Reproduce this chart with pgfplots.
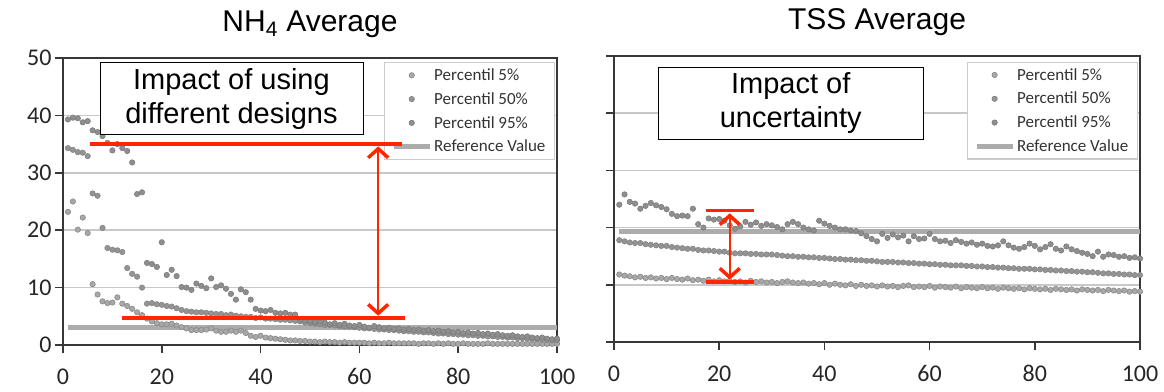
\documentclass[border=0pt]{standalone}
\usepackage{fontspec}
\setmainfont{Liberation Sans}
\newfontfamily\carlito{Carlito}
\usepackage{pgfplots}
\usepackage{pgfplotstable}
\pgfplotsset{compat=1.18}
\usetikzlibrary{arrows.meta}
\definecolor{annred}{RGB}{255,38,0}
\definecolor{gridc}{RGB}{200,200,200}
\definecolor{framec}{RGB}{55,55,55}
\definecolor{refc}{RGB}{172,172,172}
\definecolor{mA}{RGB}{168,168,168}
\definecolor{mAd}{RGB}{138,138,138}
\definecolor{mB}{RGB}{148,148,148}
\definecolor{mBd}{RGB}{132,132,132}
\definecolor{mC}{RGB}{142,142,142}
\definecolor{mCd}{RGB}{125,125,125}
\tikzset{
  redline/.style={annred, line width=3.5pt},
  redarrow/.style={annred, line width=2pt, {Straight Barb[length=9pt,width=20pt,line width=3.5pt]}-{Straight Barb[length=9pt,width=20pt,line width=3.5pt]}},
  annbox/.style={draw=black, line width=0.8pt, fill=white, minimum height=72pt, align=center, font=\fontsize{29}{34}\selectfont},
}

\pgfplotstableread{
x p5 p50 p95
1 23.2 34.3 39.3
2 25.0 34.0 39.6
3 20.1 33.6 39.5
4 22.2 33.5 38.8
5 19.5 32.9 39.0
6 10.6 26.4 37.4
7 8.8 26.0 37.1
8 7.6 20.4 36.4
9 7.3 16.9 35.2
10 7.4 16.6 33.9
11 8.3 16.5 35.0
12 7.2 16.2 34.3
13 6.8 13.4 33.8
14 6.3 12.4 31.8
15 5.7 11.9 26.3
16 5.2 10.0 26.6
17 4.6 7.2 14.3
18 4.1 7.3 14.1
19 3.8 7.1 13.6
20 3.6 7.0 17.9
21 3.6 6.8 12.2
22 3.7 6.7 13.1
23 3.4 6.4 12.0
24 3.1 6.1 10.1
25 2.9 5.9 10.0
26 2.6 5.8 9.6
27 2.6 5.7 10.7
28 2.6 5.7 10.3
29 2.7 5.6 9.9
30 2.9 5.5 11.6
31 2.5 5.4 10.1
32 2.3 5.4 10.4
33 2.3 5.2 9.8
34 2.5 5.3 8.9
35 2.3 5.1 7.9
36 2.5 5.0 9.7
37 2.1 4.9 9.2
38 1.6 4.9 7.9
39 1.4 4.7 6.3
40 1.6 4.8 6.0
41 1.3 4.6 5.9
42 1.2 4.6 6.1
43 1.1 4.5 5.6
44 1.0 4.4 5.5
45 0.9 4.4 5.6
46 0.8 4.3 5.3
47 0.8 4.2 5.3
48 0.7 4.1 4.4
49 0.7 3.9 4.3
50 0.6 3.8 4.1
51 0.6 3.7 4.0
52 0.5 3.6 4.1
53 0.6 3.5 3.9
54 0.5 3.5 3.6
55 0.5 3.4 3.8
56 0.4 3.3 3.5
57 0.5 3.2 3.7
58 0.4 3.2 3.4
59 0.4 3.1 3.3
60 0.4 3.0 3.5
61 0.4 2.9 3.2
62 0.3 2.9 3.0
63 0.4 2.8 3.3
64 0.3 2.7 3.1
65 0.3 2.7 2.9
66 0.4 2.6 3.0
67 0.3 2.6 2.8
68 0.3 2.5 2.9
69 0.3 2.4 2.7
70 0.3 2.4 2.8
71 0.3 2.3 2.6
72 0.2 2.3 2.7
73 0.3 2.2 2.5
74 0.3 2.2 2.6
75 0.2 2.1 2.4
76 0.3 2.0 2.5
77 0.2 2.0 2.3
78 0.3 1.9 2.4
79 0.2 1.9 2.2
80 0.2 1.8 2.3
81 0.3 1.8 2.1
82 0.2 1.7 2.2
83 0.2 1.7 2.0
84 0.2 1.6 2.1
85 0.2 1.6 1.9
86 0.3 1.5 2.0
87 0.2 1.5 1.8
88 0.2 1.4 1.9
89 0.2 1.4 1.7
90 0.2 1.3 1.6
91 0.2 1.3 1.7
92 0.2 1.2 1.5
93 0.2 1.2 1.4
94 0.2 1.1 1.5
95 0.2 1.0 1.3
96 0.2 1.0 1.2
97 0.2 0.9 1.3
98 0.2 0.9 1.1
99 0.2 0.8 1.0
100 0.2 0.8 1.1
}\nhfour

\pgfplotstableread{
x p5 p50 p95
1 11.8 17.8 24.0
2 11.6 17.6 25.8
3 11.5 17.4 24.5
4 11.3 17.3 24.2
5 11.4 17.3 23.3
6 11.2 17.1 23.8
7 11.3 17.0 24.3
8 11.1 16.9 23.9
9 11.2 16.8 23.6
10 11.0 16.8 23.2
11 11.2 16.6 22.4
12 11.0 16.5 22.0
13 10.9 16.4 22.1
14 11.1 16.3 22.0
15 10.8 16.3 23.3
16 10.9 16.1 20.6
17 10.7 16.0 20.0
18 10.9 16.0 21.6
19 10.6 15.9 21.4
20 10.8 15.8 21.5
21 10.6 15.8 21.2
22 10.7 15.6 20.4
23 10.5 15.5 19.8
24 10.6 15.5 20.2
25 10.4 15.5 21.0
26 10.7 15.4 20.5
27 10.5 15.4 20.9
28 10.6 15.3 20.3
29 10.4 15.3 20.6
30 10.5 15.3 20.4
31 10.3 15.2 20.1
32 10.5 15.1 19.7
33 10.6 15.0 20.6
34 10.4 15.0 21.0
35 10.3 14.9 20.6
36 10.4 14.9 20.0
37 10.2 14.8 19.7
38 10.3 14.8 19.5
39 10.1 14.7 21.2
40 10.3 14.7 20.7
41 10.0 14.6 20.3
42 10.2 14.5 20.0
43 10.0 14.5 19.7
44 9.9 14.4 19.7
45 10.1 14.4 19.5
46 9.8 14.3 19.4
47 10.0 14.3 19.0
48 9.8 14.2 18.5
49 9.9 14.2 18.0
50 9.7 14.1 17.6
51 9.9 14.0 18.9
52 9.7 14.0 18.2
53 9.8 14.0 18.8
54 9.6 13.9 18.3
55 9.8 13.9 18.6
56 9.9 13.8 17.6
57 9.6 13.8 18.5
58 9.7 13.7 18.0
59 9.6 13.7 18.1
60 9.8 13.6 18.9
61 9.5 13.6 18.0
62 9.7 13.5 17.6
63 9.6 13.5 17.7
64 9.5 13.4 17.3
65 9.7 13.4 17.8
66 9.4 13.4 17.5
67 9.6 13.3 17.2
68 9.5 13.3 17.4
69 9.4 13.2 17.0
70 9.6 13.2 17.2
71 9.4 13.1 16.8
72 9.5 13.1 16.7
73 9.3 13.0 16.9
74 9.5 13.0 17.6
75 9.4 12.9 16.9
76 9.3 12.9 16.5
77 9.4 12.8 16.3
78 9.2 12.8 16.6
79 9.4 12.8 17.2
80 9.3 12.7 16.8
81 9.2 12.7 16.2
82 9.3 12.6 16.6
83 9.1 12.6 17.1
84 9.3 12.5 16.3
85 9.2 12.5 16.0
86 9.1 12.4 16.7
87 9.2 12.4 16.2
88 9.0 12.3 15.9
89 9.2 12.3 15.6
90 9.1 12.2 15.4
91 9.0 12.2 15.0
92 9.1 12.1 15.8
93 8.9 12.0 14.9
94 9.1 12.0 15.3
95 9.0 11.9 15.2
96 8.9 11.9 14.9
97 9.0 11.8 15.0
98 8.8 11.8 14.7
99 8.9 11.7 14.8
100 8.8 11.7 14.6
}\tss

\pgfplotsset{
  base/.style={
    scale only axis,
    xmin=0, xmax=100, ymin=0, ymax=50,
    xtick={0,20,...,100}, ytick={0,10,...,50},
    xtick pos=bottom, ytick pos=left,
    tick align=outside, major tick length=8pt,
    tick style={line width=1.5pt, color=framec},
    ymajorgrids, grid style={line width=1.6pt, color=gridc},
    axis line style={line width=2pt, color=framec},
    /pgf/number format/assume math mode=true,
    tick label style={font=\carlito\fontsize{24}{24}\selectfont, text=black!85},
    xticklabel style={yshift=-12pt},
    clip=false,
    legend cell align=left,
    legend image code/.code={\draw[mark repeat=2,mark phase=2,##1] plot coordinates {(0pt,0pt) (18pt,0pt) (36pt,0pt)};},
    legend style={anchor=north east, draw=gray!40, line width=1.2pt,
      font=\carlito\fontsize{17}{19}\selectfont, text=black!80,
      row sep=6.5pt, inner xsep=7pt, inner ysep=4pt},
    title style={font=\fontsize{30}{32}\selectfont, anchor=base, yshift=21pt},
  },
  pA/.style={only marks, mark=*, mark size=2.7pt, mark options={fill=mA, draw=mAd, line width=0.6pt}},
  pB/.style={only marks, mark=*, mark size=2.7pt, mark options={fill=mB, draw=mBd, line width=0.6pt}},
  pC/.style={only marks, mark=*, mark size=2.7pt, mark options={fill=mC, draw=mCd, line width=0.6pt}},
  pR/.style={no marks, line width=5pt, color=refc},
}

\begin{document}
\begin{tikzpicture}
\path[use as bounding box] (0,0) rectangle (1164pt,391pt);

\begin{axis}[base, at={(63pt,46pt)}, anchor=south west, width=494pt, height=287pt,
  title={NH\textsubscript{4} Average},
  legend style={at={(0.996,0.986)}}]
\addplot[pA] table[x=x,y=p5] {\nhfour};
\addplot[pB] table[x=x,y=p50] {\nhfour};
\addplot[pC] table[x=x,y=p95] {\nhfour};
\addplot[pR] coordinates {(1,3) (100,3)};
\legend{Percentil 5\%, Percentil 50\%, Percentil 95\%, Reference Value}
\coordinate (Lbox) at (34.1,42.9);
\coordinate (L1a) at (5.5,35);
\coordinate (L1b) at (68.6,35);
\coordinate (L2a) at (11.9,4.7);
\coordinate (L2b) at (69.2,4.7);
\coordinate (L3a) at (63.8,34.6);
\coordinate (L3b) at (63.8,5.1);
\end{axis}
\node[annbox, minimum width=263pt] at (Lbox) {Impact of using\\different designs};
\draw[redline] (L1a) -- (L1b);
\draw[redline] (L2a) -- (L2b);
\draw[redarrow] (L3a) -- (L3b);

\begin{axis}[base, at={(614pt,49pt)}, anchor=south west, width=526pt, height=286pt,
  title={TSS Average}, yticklabels={},
  legend style={at={(0.996,0.98)}}]
\addplot[pA] table[x=x,y=p5] {\tss};
\addplot[pB] table[x=x,y=p50] {\tss};
\addplot[pC] table[x=x,y=p95] {\tss};
\addplot[pR] coordinates {(1,19.4) (100,19.4)};
\legend{Percentil 5\%, Percentil 50\%, Percentil 95\%, Reference Value}
\coordinate (Rbox) at (33.6,41.8);
\coordinate (R1a) at (17.5,22.95);
\coordinate (R1b) at (26.6,22.95);
\coordinate (R2a) at (17.5,10.5);
\coordinate (R2b) at (26.6,10.5);
\coordinate (R3a) at (22.0,22.5);
\coordinate (R3b) at (22.0,10.9);
\end{axis}
\node[annbox, minimum width=265pt] at (Rbox) {Impact of\\uncertainty};
\draw[redline] (R1a) -- (R1b);
\draw[redline] (R2a) -- (R2b);
\draw[redarrow] (R3a) -- (R3b);
\end{tikzpicture}
\end{document}
